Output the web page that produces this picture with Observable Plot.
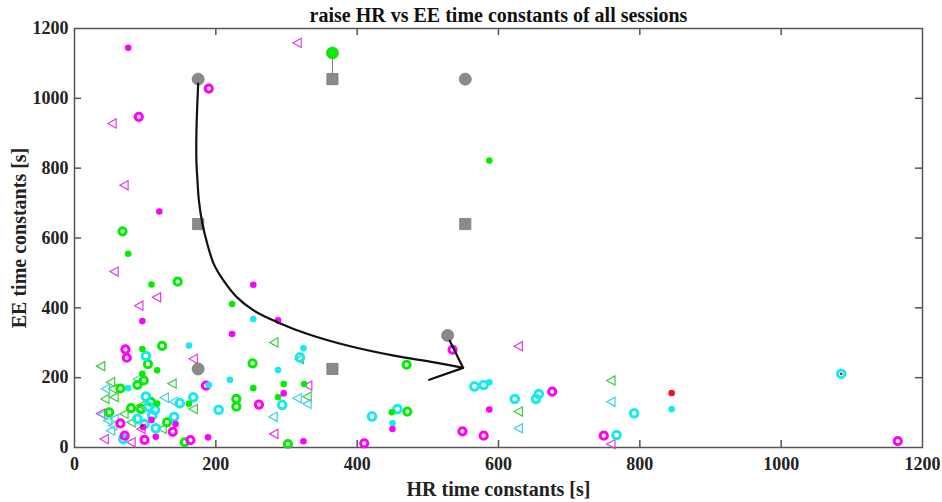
<!DOCTYPE html>
<html>
<head>
<meta charset="utf-8">
<script src="https://cdn.jsdelivr.net/npm/d3@7"></script>
<script src="https://cdn.jsdelivr.net/npm/@observablehq/plot@0.6"></script>
<style>
  html, body { margin: 0; padding: 0; background: #fff; }
</style>
</head>
<body>
<div id="chart"></div>
<script>
const titleText = "raise HR vs EE time constants of all sessions";
const xLabel = "HR time constants [s]";
const yLabel = "EE time constants [s]";
const xTicks = [0, 200, 400, 600, 800, 1000, 1200];
const yTicks = [0, 200, 400, 600, 800, 1000, 1200];
const innerXTicks = [200, 400, 600, 800, 1000];
const innerYTicks = [200, 400, 600, 800, 1000];

// [HR, EE] pairs per colour / marker
const magentaDots = [[76,1145],[120,676],[253,466],[288,364],[96,362],[223,325],[296,155],[587,109],[450,53],[189,29],[324,18],[143,67],[109,79],[97,58],[115,31]];
const magentaRings = [[190,1028],[91,947],[72,281],[74,257],[186,177],[261,123],[535,280],[676,160],[549,46],[579,34],[410,12],[749,34],[1165,18],[65,69],[99,22],[71,34],[139,45],[164,21]];
const magentaTris = [[315,1159],[53,928],[70,751],[56,504],[116,430],[91,406],[168,254],[330,177],[282,39],[628,290],[759,10],[42,24],[80,15],[37,97],[94,53]];
const greenDots = [[76,555],[109,467],[223,411],[96,282],[117,221],[96,211],[162,125],[117,126],[253,170],[296,182],[288,144],[325,182],[449,101],[587,822]];
const greenRings = [[68,619],[146,475],[124,291],[104,239],[98,192],[89,179],[65,169],[49,101],[80,113],[94,110],[108,131],[131,72],[156,15],[252,241],[229,139],[229,117],[302,10],[470,237],[471,103]];
const greenTris = [[37,233],[282,301],[318,253],[51,187],[54,168],[56,144],[43,139],[70,96],[80,72],[138,183],[168,110],[94,120],[124,53],[329,146],[759,192],[628,103]];
const cyanDots = [[253,368],[324,284],[162,292],[76,170],[190,179],[220,194],[288,222],[450,70],[587,187],[845,110]];
const cyanRings = [[319,258],[101,262],[168,144],[149,127],[141,88],[204,108],[294,122],[101,146],[105,117],[114,108],[110,92],[89,82],[99,67],[115,55],[69,24],[421,89],[457,110],[566,175],[579,179],[623,139],[653,139],[657,153],[792,98],[767,36],[1085,211]];
const cyanTris = [[44,168],[89,196],[127,143],[140,131],[315,141],[329,125],[281,88],[40,95],[56,82],[54,63],[51,48],[47,77],[628,55],[759,131]];
const redDots = [[845,156]];
const darkDots = [[1085,211],[96,62]];
const bigGreen = [[365,1130]];
const grayCircles = [[175,1055],[553,1055],[528,321],[175,225]];
const graySquares = [[175,640],[365,1055],[553,640],[365,225]];
const grayLink = [[365,1130],[365,1055]];
const arrowCurve = [[175,1042],[172.5,900],[172.5,820],[174,765],[176,708],[181,641],[188,583],[197,526],[211,478],[230,430],[254,392],[287,359],[330,325],[386,292],[452,263],[509,244],[550,228]];
const arrowHead = [[531,306],[550,228],[502,194]];

const leftTriangle = {
  draw(ctx, size) {
    const r = Math.sqrt(size / Math.PI);
    ctx.moveTo(-r * 0.9, 0);
    ctx.lineTo(r * 0.9, -r);
    ctx.lineTo(r * 0.9, r);
    ctx.closePath();
  }
};

const FONT = "Liberation Serif, Times New Roman, serif";
const xy = {x: d => d[0], y: d => d[1]};
const fmt = d => String(d);

const chart = Plot.plot({
  width: 942,
  height: 502,
  marginLeft: 74,
  marginRight: 20,
  marginTop: 28,
  marginBottom: 55,
  style: {fontFamily: FONT, background: "#fff"},
  x: {domain: [0, 1200], axis: null},
  y: {domain: [0, 1200], axis: null},
  marks: [
    Plot.axisX(xTicks, {anchor: "bottom", tickSize: 0, tickPadding: 10, tickFormat: fmt, fontSize: 18, fontWeight: "bold", fill: "#222", label: null, fontFamily: FONT}),
    Plot.axisY(yTicks, {anchor: "left", tickSize: 0, tickPadding: 6, tickFormat: fmt, fontSize: 18, fontWeight: "bold", fill: "#222", label: null, fontFamily: FONT}),
    Plot.ruleX(innerXTicks, {y1: 0, y2: 20, stroke: "#555", strokeWidth: 1.5}),
    Plot.ruleX(innerXTicks, {y1: 1180, y2: 1200, stroke: "#555", strokeWidth: 1.5}),
    Plot.ruleY(innerYTicks, {x1: 0, x2: 10, stroke: "#555", strokeWidth: 1.5}),
    Plot.ruleY(innerYTicks, {x1: 1190, x2: 1200, stroke: "#555", strokeWidth: 1.5}),
    Plot.frame({stroke: "#555", strokeWidth: 1.5}),

    Plot.dot(magentaTris, {...xy, symbol: leftTriangle, r: 4.6, stroke: "#e23ce6", strokeWidth: 1.2, fill: "none"}),
    Plot.dot(greenTris, {...xy, symbol: leftTriangle, r: 4.6, stroke: "#3ccc3c", strokeWidth: 1.2, fill: "none"}),
    Plot.dot(cyanTris, {...xy, symbol: leftTriangle, r: 4.6, stroke: "#3cd2e2", strokeWidth: 1.2, fill: "none"}),

    Plot.dot(greenRings, {...xy, r: 3.6, stroke: "#00ee00", strokeWidth: 3, fill: "none"}),
    Plot.dot(cyanRings, {...xy, r: 3.8, stroke: "#18e8f0", strokeWidth: 3, fill: "none"}),
    Plot.dot(magentaRings, {...xy, r: 3.6, stroke: "#ff00ff", strokeWidth: 3, fill: "none"}),

    Plot.dot(greenDots, {...xy, r: 3.3, fill: "#00ee00", stroke: "none"}),
    Plot.dot(cyanDots, {...xy, r: 3.3, fill: "#18e8f0", stroke: "none"}),
    Plot.dot(magentaDots, {...xy, r: 3.3, fill: "#ff00ff", stroke: "none"}),
    Plot.dot(redDots, {...xy, r: 3.3, fill: "#e8102a", stroke: "none"}),
    Plot.dot(darkDots, {...xy, r: 1.3, fill: "#802020", stroke: "none"}),

    Plot.line(grayLink, {...xy, stroke: "#777", strokeWidth: 1}),
    Plot.dot(grayCircles, {...xy, r: 6, fill: "#8a8a8a", stroke: "#7a7a7a", strokeWidth: 0.8}),
    Plot.dot(graySquares, {...xy, symbol: "square", r: 6.3, fill: "#8a8a8a", stroke: "#7a7a7a", strokeWidth: 0.8}),
    Plot.dot(bigGreen, {...xy, r: 6, fill: "#00ee00", stroke: "#55aa55", strokeWidth: 0.8}),

    Plot.line(arrowCurve, {...xy, curve: "catmull-rom", stroke: "#111", strokeWidth: 2.2}),
    Plot.line(arrowHead, {...xy, stroke: "#111", strokeWidth: 2.2, strokeLinejoin: "miter"}),

    Plot.text([titleText], {frameAnchor: "top", dy: -13, lineAnchor: "middle", textAnchor: "middle", fontSize: 20, fontWeight: "bold", fill: "#111", fontFamily: FONT}),
    Plot.text([xLabel], {frameAnchor: "bottom", dy: 42, lineAnchor: "middle", textAnchor: "middle", fontSize: 20, fontWeight: "bold", fill: "#222", fontFamily: FONT}),
    Plot.text([yLabel], {frameAnchor: "left", dx: -55, rotate: -90, lineAnchor: "middle", textAnchor: "middle", fontSize: 20, fontWeight: "bold", fill: "#222", fontFamily: FONT})
  ]
});
document.getElementById("chart").appendChild(chart);
</script>
</body>
</html>
